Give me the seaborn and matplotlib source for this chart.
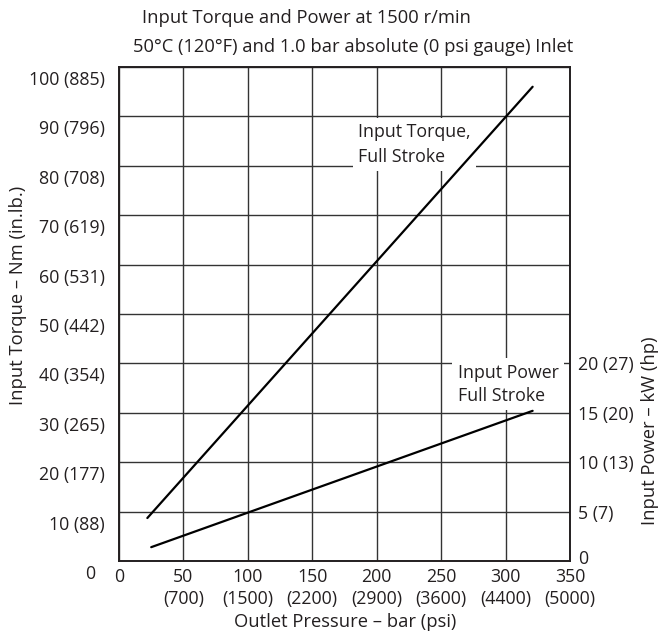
import matplotlib
matplotlib.use('Agg')
import matplotlib.pyplot as plt
from matplotlib.transforms import ScaledTranslation
import pandas as pd
import seaborn as sns

# data
pressure_ticks = [0, 50, 100, 150, 200, 250, 300, 350]
psi_labels = ['', '(700)', '(1500)', '(2200)', '(2900)', '(3600)', '(4400)', '(5000)']
torque_ticks = [0, 10, 20, 30, 40, 50, 60, 70, 80, 90, 100]
inlb_labels = ['', '88', '177', '265', '354', '442', '531', '619', '708', '796', '885']
power_ticks = [0, 5, 10, 15, 20]
hp_labels = ['', '7', '13', '20', '27']

torque_bar = [22, 321]
torque_nm = [8.7, 96]
power_bar = [25, 321]
power_kw = [1.4, 15.2]

sns.set_theme(style='white')
plt.rcParams['font.family'] = ['Open Sans', 'DejaVu Sans']
FS = 12.8
INK = '#231f20'

torque = pd.DataFrame({'bar': torque_bar, 'nm': torque_nm})
power = pd.DataFrame({'bar': power_bar, 'kw': power_kw})

fig = plt.figure(figsize=(6.6, 6.35), dpi=100)
ax = fig.add_axes([119 / 660, 74 / 635, 451 / 660, 494 / 635])
ax2 = ax.twinx()

ax.set_xlim(0, 350)
ax.set_ylim(0, 100)
ax2.set_ylim(0, 50)

ax.set_xticks(pressure_ticks)
ax.set_xticklabels([f'{p}\n{q}' if q else f'{p}' for p, q in zip(pressure_ticks, psi_labels)],
                   fontsize=FS, color=INK, linespacing=1.3)
ax.set_yticks(torque_ticks)
ax.set_yticklabels([f'{t} ({l})' if l else f'{t}' for t, l in zip(torque_ticks, inlb_labels)],
                   fontsize=FS, color=INK)
ax2.set_yticks(power_ticks)
ax2.set_yticklabels([f'{p} ({l})' if l else f'{p}' for p, l in zip(power_ticks, hp_labels)],
                    fontsize=FS, color=INK)

ax.tick_params(axis='x', length=0, pad=5)
ax.tick_params(axis='y', length=0, pad=10)
ax2.tick_params(axis='y', length=0, pad=6)

ax.grid(True, color='#333333', linewidth=1.0, zorder=0)
ax.set_axisbelow(True)
for a in (ax, ax2):
    for s in a.spines.values():
        s.set_color(INK)
        s.set_linewidth(1.2)

# shift left tick labels a little below their grid lines
for lab in ax.get_yticklabels():
    dx = -10 / 100 if lab.get_text() == '0' else 0
    lab.set_transform(lab.get_transform() + ScaledTranslation(dx, -11 / 100, fig.dpi_scale_trans))
for lab in ax2.get_yticklabels():
    if lab.get_text() == '0':
        lab.set_transform(lab.get_transform() + ScaledTranslation(0, 4 / 100, fig.dpi_scale_trans))

sns.lineplot(data=torque, x='bar', y='nm', ax=ax, color='black', linewidth=1.6, zorder=5)
sns.lineplot(data=power, x='bar', y='kw', ax=ax2, color='black', linewidth=1.6, zorder=5)
ax.set_xlabel('')
ax.set_ylabel('')
ax2.set_ylabel('')

# white boxes that cut the grid behind the labels
ax.text(185.5, 88.6, 'Input Torque,\nFull Stroke', fontsize=FS, color=INK, va='top', ha='left',
        linespacing=1.45, zorder=3,
        bbox=dict(facecolor='white', edgecolor='none', pad=4))
ax.text(263, 39.9, 'Input Power\nFull Stroke', fontsize=FS, color=INK, va='top', ha='left',
        linespacing=1.35, zorder=3,
        bbox=dict(facecolor='white', edgecolor='none', pad=4))

fig.text(306 / 660, 1 - 18 / 635, 'Input Torque and Power at 1500 r/min',
         fontsize=13.2, color=INK, ha='center', va='center')
fig.text(353 / 660, 1 - 47 / 635, '50°C (120°F) and 1.0 bar absolute (0 psi gauge) Inlet',
         fontsize=13.2, color=INK, ha='center', va='center')
fig.text(18 / 660, 1 - 295 / 635, 'Input Torque – Nm (in.lb.)', fontsize=13.2, color=INK,
         rotation=90, ha='center', va='center')
fig.text(650 / 660, 1 - 431 / 635, 'Input Power – kW (hp)', fontsize=13.2, color=INK,
         rotation=90, ha='center', va='center')
fig.text(345 / 660, 1 - 622 / 635, 'Outlet Pressure – bar (psi)', fontsize=13.2, color=INK,
         ha='center', va='center')

fig.savefig('out.png', dpi=100, facecolor='white')
